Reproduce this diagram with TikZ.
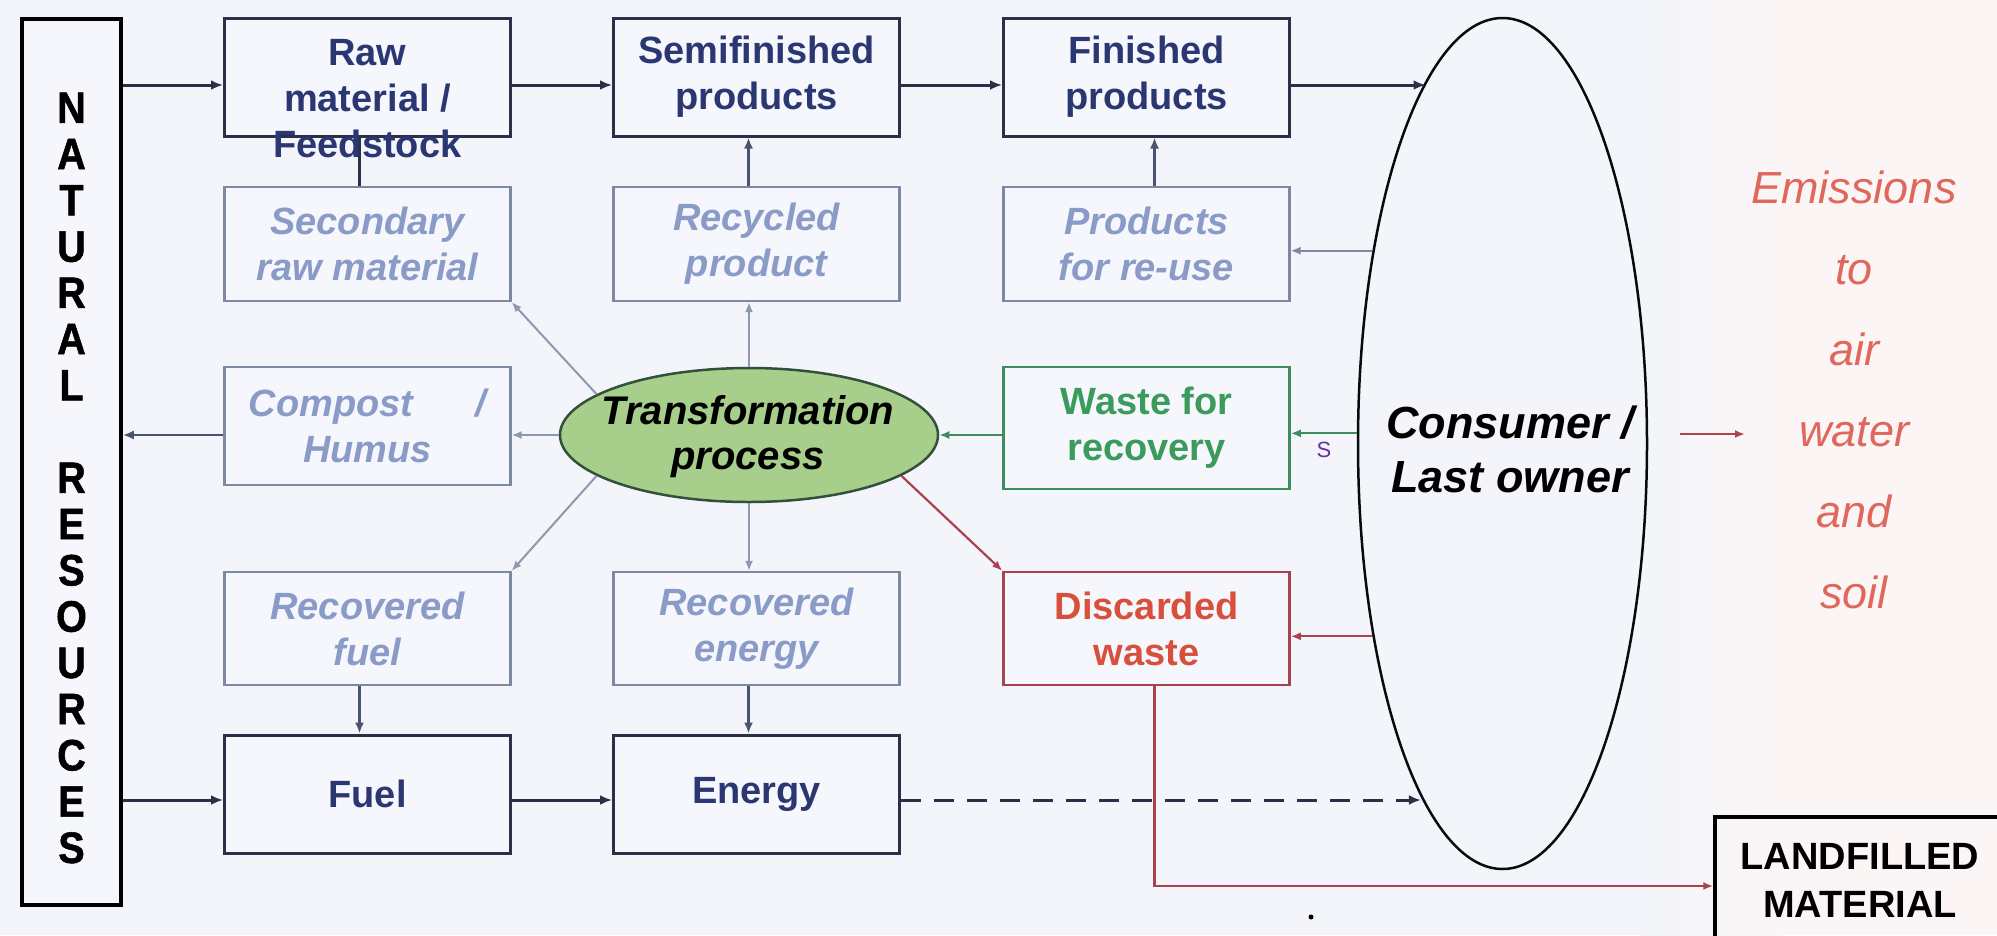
\documentclass[tikz,border=0pt]{standalone}
\usepackage{fontspec}
\setmainfont{Liberation Sans}
\newfontfamily\nrfont{Liberation Sans}[FakeStretch=0.9, FakeBold=1.2]
\usetikzlibrary{arrows.meta,shapes.geometric}
\definecolor{bg}{HTML}{F3F5FA}
\definecolor{bgpink}{HTML}{FBF5F5}
\definecolor{boxfill}{HTML}{F5F7FC}
\definecolor{navy}{HTML}{2A3048}
\definecolor{navytext}{HTML}{2B3772}
\definecolor{midline}{HTML}{4A5470}
\definecolor{lightline}{HTML}{7D89A2}
\definecolor{lighttext}{HTML}{8A9BC8}
\definecolor{conn}{HTML}{8E98AE}
\definecolor{grnline}{HTML}{3E8B5C}
\definecolor{grntext}{HTML}{3A9B5C}
\definecolor{redline}{HTML}{A8434F}
\definecolor{redtext}{HTML}{D84F3C}
\definecolor{emis}{HTML}{E0675B}
\definecolor{emisarrow}{HTML}{B0444E}
\definecolor{tpfill}{HTML}{A7CF8B}
\definecolor{tpline}{HTML}{33503A}
\definecolor{sviolet}{HTML}{6B2FA6}
\begin{document}
\begin{tikzpicture}[x=1pt,y=-1pt,
  >={Latex[length=12pt,width=10pt]},
  box/.style={rectangle, minimum width=286pt, inner sep=0pt, align=center, fill=boxfill},
  darkbox/.style={box, draw=navy, line width=3pt, text=navytext, font=\bfseries\fontsize{38}{46}\selectfont},
  lightbox/.style={box, draw=lightline, line width=2.2pt, text=lighttext, font=\bfseries\itshape\fontsize{38}{46}\selectfont},
  greenbox/.style={box, draw=grnline, line width=2.5pt, text=grntext, font=\bfseries\fontsize{38}{46}\selectfont},
  redbox/.style={box, draw=redline, line width=2.5pt, text=redtext, font=\bfseries\fontsize{38}{46}\selectfont},
  darkarrow/.style={->, draw=navy, line width=3pt},
  midarrow/.style={->, draw=midline, line width=2.5pt, >={Latex[length=11pt,width=9pt]}},
  lightarrow/.style={->, draw=conn, line width=2pt, >={Latex[length=10pt,width=8pt]}},
  greenarrow/.style={->, draw=grnline, line width=2.2pt, >={Latex[length=10pt,width=8pt]}},
  redarrow/.style={->, draw=redline, line width=2.2pt, >={Latex[length=10pt,width=8pt]}}
]
\fill[bg] (0,0) rectangle (1997,935);
\shade[left color=bg, right color=bgpink] (1640,0) rectangle (1780,935);
\fill[bgpink] (1780,0) rectangle (1997,935);
\useasboundingbox (0,0) rectangle (1997,935);

% natural resources
\node[draw=black, line width=3.5pt, fill=boxfill, minimum width=99pt, minimum height=886pt, inner sep=0pt] (nr) at (71.5,462) {};
\node[font=\nrfont\bfseries\fontsize{44}{46.25}\selectfont, align=center, inner sep=0pt] (nrt) at (71.5,478)
  {N\\A\\T\\U\\R\\A\\L\\\mbox{}\\R\\E\\S\\O\\U\\R\\C\\E\\S};

% boxes
\node[darkbox, minimum height=118pt] (raw) at (367.5,77) {};
\node[darkbox, minimum height=118pt] (semi) at (756.5,77) {Semifinished\\products};
\node[darkbox, minimum height=118pt] (fin) at (1146.5,77) {Finished\\products};

\node[lightbox, minimum height=114pt] (sec) at (367.5,244) {Secondary\\raw material};
\node[lightbox, minimum height=114pt] (rp) at (756.5,244) {Recycled\\product};
\node[lightbox, minimum height=114pt] (pru) at (1146.5,244) {Products\\for re-use};

\node[lightbox, minimum height=118pt] (comp) at (367.5,426) {Compost\hspace{62pt}/\\Humus};
\node[greenbox, minimum height=122pt] (wfr) at (1146.5,428) {Waste for\\recovery};

\node[lightbox, minimum height=113pt] (rf) at (367.5,628.5) {Recovered\\fuel};
\node[lightbox, minimum height=113pt] (re) at (756.5,628.5) {Recovered\\energy};
\node[redbox, minimum height=113pt] (dw) at (1146.5,628.5) {Discarded\\waste};

\node[darkbox, minimum height=118pt] (fuel) at (367.5,794) {Fuel};
\node[darkbox, minimum height=118pt] (en) at (756.5,794) {Energy};

% transformation process
\node[ellipse, draw=tpline, line width=2.5pt, fill=tpfill, minimum width=378pt, minimum height=134pt, inner sep=0pt] (tp) at (749,435) {};
\node[font=\bfseries\itshape\fontsize{40}{45}\selectfont, align=center, inner sep=0pt] (tpt) at (748,437) {Transformation\\process};

% consumer
\node[ellipse, draw=black!80!navy, line width=2.5pt, minimum width=289pt, minimum height=851pt, inner sep=0pt] (cons) at (1502.5,443.5) {};
\node[font=\bfseries\itshape\fontsize{45}{54}\selectfont, align=center, inner sep=0pt] (const) at (1510,449) {Consumer /\\Last owner};

% emissions
\node[font=\itshape\fontsize{45}{81}\selectfont, text=emis, align=center, inner sep=0pt] (emt) at (1854,390) {Emissions\\to\\air\\water\\and\\soil};
\coordinate (emisend) at (1745,434);

% landfill
\node[draw=black, line width=3.5pt, minimum width=284pt, minimum height=138pt, inner sep=0pt] (lf) at (1857,886) {};
\node[font=\bfseries\fontsize{38}{48}\selectfont, align=center, inner sep=0pt] (lft) at (1860,880.5) {LANDFILLED\\MATERIAL};

% connectors: top row
\draw[darkarrow] ([yshift=-8pt]raw.west -| nr.east) -- ([yshift=-8pt]raw.west);
\draw[darkarrow] ([yshift=-8pt]raw.east) -- ([yshift=-8pt]semi.west);
\draw[darkarrow] ([yshift=-8pt]semi.east) -- ([yshift=-8pt]fin.west);
\draw[darkarrow] ([yshift=-8pt]fin.east) -- ([yshift=-8pt]fin.east -| cons.102.2);

% vertical links
\draw[draw=navy, line width=2.5pt] ([xshift=-8pt]sec.north) -- ([xshift=-8pt]raw.south);
\draw[midarrow] ([xshift=-8pt]rp.north) -- ([xshift=-8pt]semi.south);
\draw[midarrow] ([xshift=8pt]pru.north) -- ([xshift=8pt]fin.south);
\draw[midarrow] ([xshift=-8pt]rf.south) -- ([xshift=-8pt]fuel.north);
\draw[midarrow] ([xshift=-8pt]re.south) -- ([xshift=-8pt]en.north);

% from consumer
\draw[lightarrow, draw=lightline] (cons.124) -- (cons.124 -| pru.east);
\draw[greenarrow] (cons.176.2) -- (cons.176.2 -| wfr.east);
\draw[redarrow] (cons.236.4) -- (cons.236.4 -| dw.east);

% transformation process
\draw[greenarrow] (wfr.west |- tp.east) -- (tp.east);
\draw[lightarrow] (tp.west) -- (tp.west -| comp.east);
\draw[midarrow] (tp.west -| comp.west) -- (tp.west -| nr.east);
\draw[lightarrow] (tp.165) -- (sec.south east);
\draw[lightarrow] (tp.195) -- (rf.north east);
\draw[lightarrow] (tp.north) -- (tp.north |- rp.south);
\draw[lightarrow] (tp.south) -- (tp.south |- re.north);
\draw[redarrow] (tp.345) -- (dw.north west);

% bottom row
\draw[darkarrow] ([yshift=-6pt]fuel.west -| nr.east) -- ([yshift=-6pt]fuel.west);
\draw[darkarrow] ([yshift=-6pt]fuel.east) -- ([yshift=-6pt]en.west);
\draw[darkarrow, dash pattern=on 20pt off 13pt] ([yshift=-6pt]en.east) -- ([yshift=-6pt]en.east -| cons.257.5);

% discarded to landfill
\draw[redarrow] ([xshift=8pt]dw.south) |- (lf.west);

% emissions arrow
\draw[redarrow, draw=emisarrow] ([xshift=32pt,yshift=9.5pt]cons.east) -- (emisend);

% raw material text on top
\node[font=\bfseries\fontsize{38}{46}\selectfont, text=navytext, align=center, inner sep=0pt] (rawt) at (367.5,98.5) {Raw\\material /\\Feedstock};

% small marks
\node[text=sviolet, font=\fontsize{22}{24}\selectfont, inner sep=0pt] (smark) at (1324,450) {S};
\fill[black] (1311,917) circle (2.5);
\end{tikzpicture}
\end{document}
